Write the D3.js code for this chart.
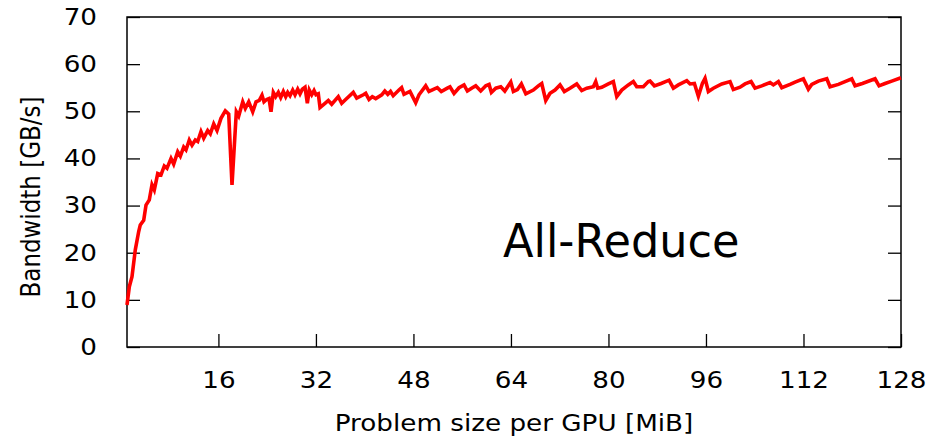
<!DOCTYPE html>
<html>
<head>
<meta charset="utf-8">
<script src="https://cdn.jsdelivr.net/npm/d3@7"></script>
<style>
  html, body { margin: 0; padding: 0; background: #fff; }
  svg { display: block; }
  text { font-family: "DejaVu Sans", sans-serif; fill: #000; }
</style>
</head>
<body>
<svg id="chart" width="945" height="439"></svg>
<script>
// Problem size per GPU [MiB]
const sizeMiB = [
  1.00, 1.38, 1.82, 2.36, 2.92, 3.18, 3.74, 4.12, 4.66, 5.10, 5.48, 6.04, 6.58, 7.12, 7.56,
  8.22, 8.66, 9.32, 9.75, 10.30, 10.68, 11.22, 11.67, 12.21, 12.60, 13.14, 13.59, 14.24, 14.67,
  15.23, 15.77, 16.42, 17.13, 17.69, 18.23, 18.94, 19.33, 19.99, 20.41, 20.97, 21.63, 22.17,
  22.71, 23.15, 23.48, 23.92, 24.30, 24.63, 25.01, 25.40, 25.83, 26.22, 26.65, 27.04, 27.37,
  27.75, 28.19, 28.57, 29.01, 29.39, 29.77, 30.21, 30.59, 30.91, 31.31, 31.69, 32.01, 32.39,
  32.67, 33.49, 34.03, 34.59, 35.67, 36.23, 37.05, 38.13, 38.69, 39.78, 40.17, 40.71, 41.25,
  41.81, 42.80, 43.30, 43.79, 44.24, 44.68, 45.62, 46.06, 46.45, 47.43, 48.37, 48.91, 50.01,
  50.55, 51.37, 51.92, 52.57, 53.56, 54.00, 54.66, 55.48, 56.30, 56.85, 57.67, 58.22, 59.04,
  59.87, 60.41, 60.79, 61.51, 62.33, 62.99, 63.97, 64.40, 65.06, 65.71, 66.44, 67.67, 68.49,
  69.05, 69.71, 70.41, 71.23, 72.05, 72.76, 73.69, 74.79, 75.61, 76.44, 77.52, 77.91, 78.24,
  78.90, 79.98, 80.80, 81.36, 82.18, 83.26, 84.08, 84.64, 85.72, 86.54, 86.82, 87.53, 88.63,
  89.94, 90.65, 91.47, 92.85, 93.39, 94.10, 94.75, 95.41, 95.85, 96.39, 97.21, 98.59, 99.95,
  100.49, 101.59, 102.41, 103.40, 104.05, 105.15, 106.52, 107.06, 107.88, 108.44, 109.80,
  110.62, 111.98, 112.80, 113.36, 114.44, 115.82, 116.36, 117.73, 119.92, 120.46, 121.66,
  123.74, 124.40, 125.38, 126.48, 128.00
];
// Bandwidth [GB/s]
const bandwidth = [
  8.9, 12.8, 14.9, 20.6, 24.5, 25.9, 26.9, 30.1, 31.2, 34.4, 33.3, 36.8, 36.5, 38.4, 37.9,
  40.0, 38.8, 41.4, 40.5, 42.4, 41.8, 43.9, 42.8, 43.9, 43.6, 45.7, 44.3, 45.9, 45.2,
  47.3, 45.9, 48.5, 50.1, 49.4, 34.4, 49.9, 49.0, 52.0, 50.6, 52.0, 49.9, 52.0,
  52.3, 53.4, 52.0, 52.5, 52.7, 49.9, 54.0, 53.1, 54.0, 52.9, 54.2, 53.1, 54.0,
  53.3, 54.5, 53.5, 54.7, 53.7, 54.7, 55.1, 51.7, 54.5, 53.5, 54.4, 53.5, 53.7,
  50.8, 51.7, 52.3, 51.5, 53.1, 51.7, 52.7, 54.0, 52.8, 53.5, 53.8, 52.5, 53.1,
  52.7, 53.5, 54.3, 53.6, 54.2, 53.3, 54.5, 55.0, 53.6, 54.2, 51.8, 53.5, 55.4,
  54.2, 54.7, 55.0, 54.2, 54.9, 55.2, 53.8, 55.0, 55.6, 54.3, 55.0, 55.4, 54.3,
  55.4, 55.7, 54.0, 54.9, 55.2, 54.3, 56.2, 54.2, 54.6, 55.8, 53.7, 54.5, 55.4,
  55.9, 52.3, 53.8, 54.5, 55.6, 54.2, 54.9, 55.8, 54.4, 54.9, 55.2, 56.3, 54.9,
  55.1, 55.8, 56.3, 53.1, 54.5, 55.6, 56.3, 55.2, 55.2, 56.3, 56.4, 55.4, 55.9,
  56.6, 54.9, 55.6, 56.5, 55.8, 55.9, 53.2, 55.9, 57.0, 54.2, 54.9, 55.8, 56.3,
  54.6, 55.1, 55.8, 56.3, 54.9, 55.4, 56.1, 55.6, 56.3, 55.0, 55.7,
  56.2, 56.9, 54.7, 55.7, 56.4, 56.9, 55.2, 55.7, 56.9, 55.4, 55.9,
  56.9, 55.4, 55.9, 56.4, 57.1
];
const xTicks = [16, 32, 48, 64, 80, 96, 112, 128];
const yTicks = [0, 10, 20, 30, 40, 50, 60, 70];
const xLabel = "Problem size per GPU [MiB]";
const yLabel = "Bandwidth [GB/s]";
const plotTitle = "All-Reduce";

const svg = d3.select("#chart");
const margin = { left: 127, top: 17, right: 44, bottom: 92 };
const W = 945, H = 439;
const x = d3.scaleLinear().domain([1, 128]).range([margin.left, W - margin.right]);
const y = d3.scaleLinear().domain([0, 70]).range([H - margin.bottom, margin.top]);

const tickLen = 13;
const stretch = 1.14;   // horizontal stretch of the reference's text
const fs = 23;
const xPad = tickLen + 12, yPad = tickLen + 17;

// bottom axis (ticks inward)
const gx = svg.append("g").attr("transform", `translate(0,${y(0)})`)
  .call(d3.axisBottom(x).tickValues(xTicks).tickSize(-tickLen).tickPadding(xPad).tickFormat(d3.format("d")));
// left axis
const gy = svg.append("g").attr("transform", `translate(${x(1)},0)`)
  .call(d3.axisLeft(y).tickValues(yTicks).tickSize(-tickLen).tickPadding(yPad).tickFormat(d3.format("d")));
// right axis mirror ticks
const gr = svg.append("g").attr("transform", `translate(${x(128)},0)`)
  .call(d3.axisRight(y).tickValues(yTicks).tickSize(-tickLen).tickFormat(""));
[gx, gy, gr].forEach(g => {
  g.select(".domain").remove();
  g.selectAll(".tick line").attr("stroke", "#000").attr("stroke-width", 1.3);
  g.selectAll(".tick text").attr("font-size", fs).attr("font-family", "DejaVu Sans").attr("fill", "#000");
});
gx.selectAll(".tick text").attr("transform", `scale(${stretch},1)`);
gy.selectAll(".tick text").attr("x", -yPad / stretch).attr("transform", `scale(${stretch},1)`);

// frame
svg.append("rect")
  .attr("x", x(1)).attr("y", y(70))
  .attr("width", x(128) - x(1)).attr("height", y(0) - y(70))
  .attr("fill", "none").attr("stroke", "#000").attr("stroke-width", 1.5);

// line
const pts = sizeMiB.map((s, i) => [s, bandwidth[i]]);
svg.append("path")
  .datum(pts)
  .attr("fill", "none")
  .attr("stroke", "#ff0000")
  .attr("stroke-width", 3.6)
  .attr("stroke-linejoin", "miter")
  .attr("d", d3.line().x(d => x(d[0])).y(d => y(d[1])));

// axis titles
svg.append("text")
  .attr("transform", `translate(${(x(1) + x(128)) / 2},431) scale(${stretch},1)`)
  .attr("text-anchor", "middle").attr("font-size", fs)
  .text(xLabel);
svg.append("text")
  .attr("transform", `translate(40,197) scale(${stretch},1) rotate(-90)`)
  .attr("text-anchor", "middle").attr("font-size", fs)
  .text(yLabel);

// in-plot title
svg.append("text")
  .attr("transform", "translate(503,257) scale(0.95,1)")
  .attr("font-family", "Liberation Sans, Arial, sans-serif")
  .attr("font-size", 47)
  .text(plotTitle);
</script>
</body>
</html>
